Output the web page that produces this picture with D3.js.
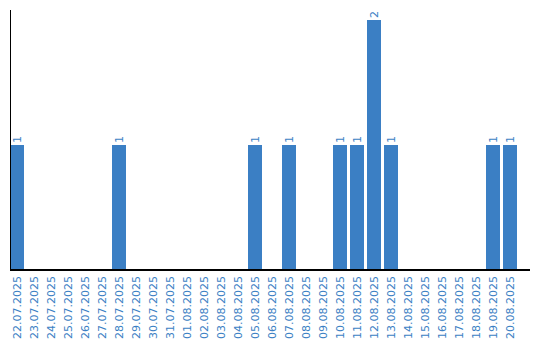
<!DOCTYPE html>
<html>
<head>
<meta charset="utf-8">
<script src="https://cdn.jsdelivr.net/npm/d3@7"></script>
<style>
  body { margin: 0; background: #fff; }
  svg text { font-family: 'DejaVu Sans'; font-size: 11px; }
</style>
</head>
<body>
<div id="entry"></div>
<script>
// one entry per day
var days = ['22.07.2025', '23.07.2025', '24.07.2025', '25.07.2025', '26.07.2025', '27.07.2025',
  '28.07.2025', '29.07.2025', '30.07.2025', '31.07.2025', '01.08.2025', '02.08.2025',
  '03.08.2025', '04.08.2025', '05.08.2025', '06.08.2025', '07.08.2025', '08.08.2025',
  '09.08.2025', '10.08.2025', '11.08.2025', '12.08.2025', '13.08.2025', '14.08.2025',
  '15.08.2025', '16.08.2025', '17.08.2025', '18.08.2025', '19.08.2025', '20.08.2025'];
var counts = [1, 0, 0, 0, 0, 0, 1, 0, 0, 0, 0, 0, 0, 0, 1, 0, 1, 0, 0, 1, 1, 2, 1, 0, 0, 0, 0, 0, 1, 1];

var blue = '#3b7fc4';
var width = 540, height = 340;
var margin = {top: 10, left: 10, bottom: 270};

var svg = d3.select('#entry').append('svg')
  .attr('width', width)
  .attr('height', height);

var x = d3.scaleBand()
  .domain(days)
  .range([margin.left, margin.left + 17 * 30 - 3])
  .paddingInner(3 / 17)
  .paddingOuter(0);

var y = d3.scaleLinear()
  .domain([0, 2.08])
  .range([margin.bottom, margin.top]);

var data = days.map(function(d, i) { return {day: d, n: counts[i]}; });
var nonZero = data.filter(function(d) { return d.n > 0; });

svg.selectAll('rect.bar')
  .data(nonZero)
  .enter()
  .append('rect')
  .attr('class', 'bar')
  .attr('x', function(d) { return x(d.day); })
  .attr('y', function(d) { return y(d.n); })
  .attr('width', x.bandwidth())
  .attr('height', function(d) { return y(0) - y(d.n); })
  .style('fill', blue);

// value labels, turned on their side
svg.selectAll('text.val')
  .data(nonZero)
  .enter()
  .append('text')
  .attr('class', 'val')
  .attr('transform', function(d) {
    return 'translate(' + (x(d.day) + x.bandwidth() / 2) + ',' + (y(d.n) - 2) + ') rotate(-90)';
  })
  .attr('dy', '0.35em')
  .style('fill', blue)
  .text(function(d) { return d.n; });

var xAxis = d3.axisBottom(x).tickSize(0).tickPadding(0);

var gx = svg.append('g')
  .attr('transform', 'translate(0,' + margin.bottom + ')')
  .call(xAxis);
gx.attr('font-family', null).attr('font-size', null);
gx.select('.domain')
  .attr('d', 'M' + margin.left + ',0H530')
  .attr('stroke', '#000')
  .attr('stroke-width', 2);
gx.selectAll('text')
  .attr('transform', 'rotate(-90)')
  .attr('x', -6)
  .attr('y', 0)
  .attr('dy', '0.35em')
  .style('text-anchor', 'end')
  .style('fill', blue);

svg.append('line')
  .attr('x1', margin.left + 0.5).attr('x2', margin.left + 0.5)
  .attr('y1', margin.top).attr('y2', margin.bottom)
  .attr('stroke', '#000')
  .attr('stroke-width', 1);
</script>
</body>
</html>
